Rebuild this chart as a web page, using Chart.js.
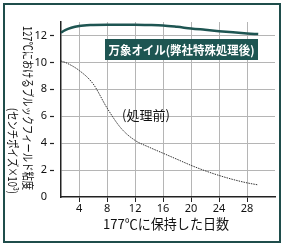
<!DOCTYPE html>
<html>
<head>
<meta charset="utf-8">
<script src="https://cdn.jsdelivr.net/npm/chart.js@4.4.0/dist/chart.umd.min.js"></script>
<style>
  html, body { margin: 0; padding: 0; background: #fff; }
  #wrap { position: relative; width: 284px; height: 247px; }
  #chart { position: absolute; left: 0; top: 0; }
  #frame { position: absolute; left: 3px; top: 3px; width: 274px; height: 236px; border: 2px solid #1f4d4b; pointer-events: none; }
</style>
</head>
<body>
<div id="wrap">
  <canvas id="chart" width="284" height="247"></canvas>
  <div id="frame"></div>
</div>
<script>
// days held at 177°C
const days = [1.4, 2, 4, 6, 8, 10, 12, 14, 16, 18, 20, 22, 24, 26, 28, 29.6];
// viscosity after treatment
const treated = [12.2, 12.4, 12.7, 12.78, 12.8, 12.8, 12.8, 12.78, 12.74, 12.64, 12.52, 12.42, 12.32, 12.23, 12.15, 12.1];
// viscosity before treatment
const untreated = [10.1, 10.0, 9.4, 8.4, 6.6, 5.1, 4.2, 3.7, 3.25, 2.8, 2.35, 1.95, 1.6, 1.3, 1.05, 0.9];
const xTicks = [4, 8, 12, 16, 20, 24, 28];
const yTicks = [0, 2, 4, 6, 8, 10, 12];

const teal = '#1e5552';
const jp = '"Noto Sans CJK JP", "Noto Sans", sans-serif';

const labelPlugin = {
    id: 'labels',
    afterDraw(chart) {
        const ctx = chart.ctx;
        ctx.save();

        // legend box
        ctx.fillStyle = teal;
        ctx.fillRect(105, 39, 153, 21);
        ctx.fillStyle = '#fff';
        ctx.font = 'bold 12px ' + jp;
        ctx.textAlign = 'center';
        ctx.textBaseline = 'middle';
        ctx.fillText('万象オイル(弊社特殊処理後)', 181.5, 50, 146);

        // untreated label
        ctx.fillStyle = '#111';
        ctx.font = '13px ' + jp;
        ctx.textAlign = 'left';
        ctx.fillText('(処理前)', 122, 115);

        // x title
        ctx.font = '13.5px ' + jp;
        ctx.textAlign = 'center';
        ctx.fillText('177℃に保持した日数', 166, 224, 126);

        // y title, two columns read top to bottom
        ctx.font = '12px ' + jp;
        ctx.translate(28, 108);
        ctx.rotate(Math.PI / 2);
        ctx.textAlign = 'center';
        ctx.fillText('127℃におけるブルックフィールド粘度', 0, 0, 164);
        ctx.restore();

        ctx.save();
        ctx.fillStyle = '#111';
        ctx.font = '12px ' + jp;
        ctx.translate(13, 194);
        ctx.rotate(Math.PI / 2);
        ctx.textAlign = 'right';
        ctx.textBaseline = 'middle';
        ctx.fillText('(センチポイズ×10³)', 0, 0, 86);
        ctx.restore();
    }
};

const canvas = document.getElementById('chart');
new Chart(canvas, {
    type: 'line',
    data: {
        datasets: [
            {
                data: days.map((d, i) => ({ x: d, y: treated[i] })),
                borderColor: teal,
                borderWidth: 2.5,
                pointRadius: 0,
                cubicInterpolationMode: 'monotone'
            },
            {
                data: days.map((d, i) => ({ x: d, y: untreated[i] })),
                borderColor: '#333',
                borderWidth: 1,
                borderDash: [1.5, 1],
                pointRadius: 0,
                cubicInterpolationMode: 'monotone'
            }
        ]
    },
    options: {
        responsive: false,
        animation: false,
        layout: { padding: { top: 22, right: 9, left: 0, bottom: 0 } },
        plugins: {
            legend: { display: false },
            tooltip: { enabled: false }
        },
        scales: {
            x: {
                type: 'linear',
                min: 1.4,
                max: 32,
                afterBuildTicks: s => { s.ticks = xTicks.map(v => ({ value: v })); },
                afterFit: s => { s.height = 50; },
                grid: { color: '#b5b5b5', lineWidth: 1, tickLength: 5, tickColor: '#222', tickWidth: 1 },
                border: { color: '#222', width: 1.5 },
                ticks: { color: '#111', font: { family: 'Noto Sans', size: 11 }, padding: 0, maxRotation: 0 }
            },
            y: {
                min: 0,
                max: 13,
                afterBuildTicks: s => { s.ticks = yTicks.map(v => ({ value: v })); },
                afterFit: s => { s.width = 61; },
                grid: {
                    color: c => c.tick && c.tick.value === 0 ? 'rgba(0,0,0,0)' : '#b5b5b5',
                    tickColor: c => c.tick && c.tick.value === 0 ? 'rgba(0,0,0,0)' : '#222',
                    tickLength: 11,
                    tickWidth: 1.2,
                    tickBorderDash: [4, 7]
                },
                border: { color: '#222', width: 1.5 },
                ticks: { color: '#111', font: { family: 'Noto Sans', size: 11 }, padding: 3 }
            }
        }
    },
    plugins: [labelPlugin]
});
</script>
</body>
</html>
